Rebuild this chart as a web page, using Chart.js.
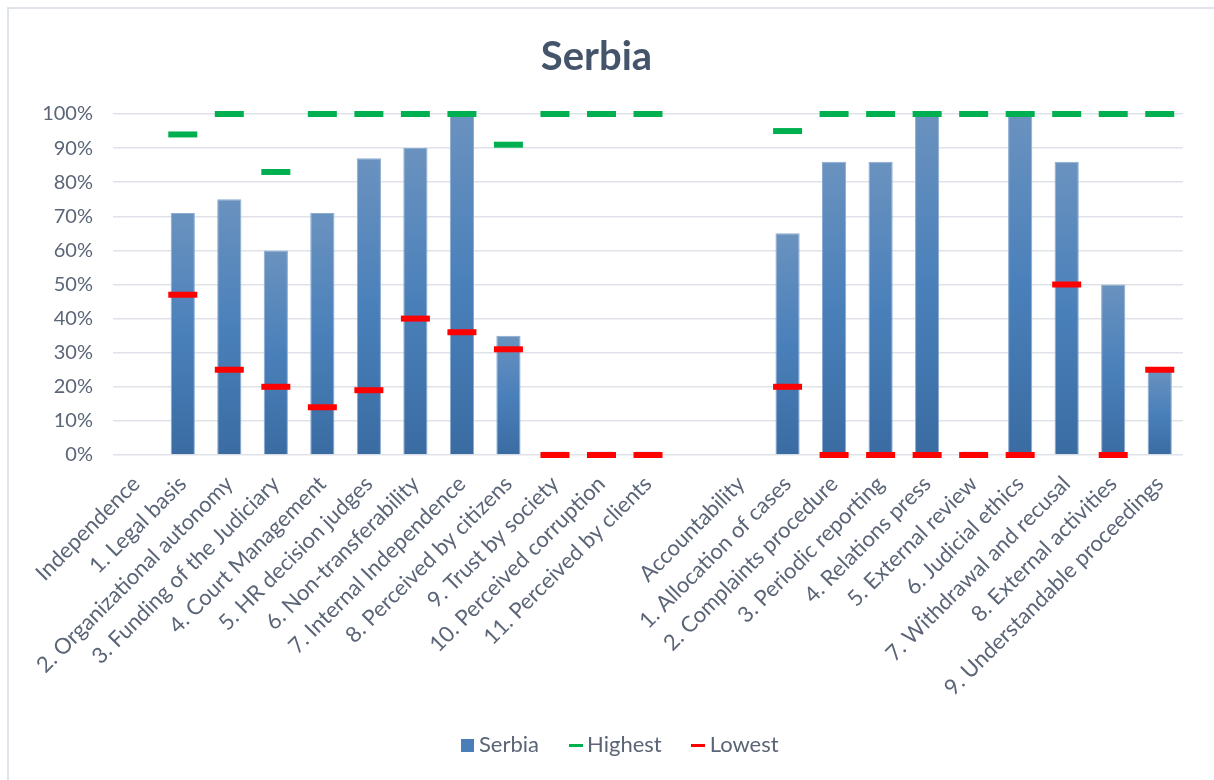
<!DOCTYPE html>
<html>
<head>
<meta charset="utf-8">
<script src="https://cdn.jsdelivr.net/npm/chart.js@4.4.1/dist/chart.umd.min.js"></script>
<style>
	body { margin: 0; background: #fff; }
	#frame { position: absolute; left: 7px; top: 7px; width: 1300px; height: 900px; border: 2px solid #DFE3EA; }
	#wrap { position: absolute; left: 0; top: 0; width: 1214px; height: 780px; }
</style>
</head>
<body>
<div id="frame"></div>
<div id="wrap"><canvas id="serbiaChart"></canvas></div>
<script>
const categories = [
	'Independence',
	'1. Legal basis',
	'2. Organizational autonomy',
	'3. Funding of the Judiciary',
	'4. Court Management',
	'5. HR decision judges',
	'6. Non-transferability',
	'7. Internal Independence',
	'8. Perceived by citizens',
	'9. Trust by society',
	'10. Perceived corruption',
	'11. Perceived by clients',
	'',
	'Accountability',
	'1. Allocation of cases',
	'2. Complaints procedure',
	'3. Periodic reporting',
	'4. Relations press',
	'5. External review',
	'6. Judicial ethics',
	'7. Withdrawal and recusal',
	'8. External activities',
	'9. Understandable proceedings'
]
const serbia  = [null, 71, 75, 60, 71, 87, 90, 100, 35, 1, 1, 1, null, null, 65, 86, 86, 100, 1, 100, 86, 50, 25]
const highest = [null, 94, 100, 83, 100, 100, 100, 100, 91, 100, 100, 100, null, null, 95, 100, 100, 100, 100, 100, 100, 100, 100]
const lowest  = [null, 47, 25, 20, 14, 19, 40, 36, 31, 0, 0, 0, null, null, 20, 0, 0, 0, 0, 0, 50, 0, 25]
const yTicks = [0, 10, 20, 30, 40, 50, 60, 70, 80, 90, 100]

const textColor = '#5B6577'
const font = 'Lato, "Open Sans", sans-serif'

// per-bar vertical gradient like the Excel fill
const barFill = (ctx)=>{
	const chart = ctx.chart
	const y = chart.scales.y
	if (!y || ctx.raw == null) return '#4A7EB8'
	const top = y.getPixelForValue(ctx.raw)
	const bottom = y.getPixelForValue(0)
	if (!isFinite(top) || bottom - top < 1) return '#4A7EB8'
	const g = chart.ctx.createLinearGradient(0, top, 0, bottom)
	g.addColorStop(0, '#6A92BF')
	g.addColorStop(0.5, '#4A80BA')
	g.addColorStop(1, '#3A6CA2')
	return g
}

// small marker images for the legend
const marker = (w, h, color)=>{
	const c = document.createElement('canvas')
	c.width = w
	c.height = h
	const cx = c.getContext('2d')
	cx.fillStyle = color
	cx.fillRect(0, 0, w, h)
	return c
}
const legendMarkers = [marker(13, 13, '#4A7EB8'), marker(14, 3, '#00B050'), marker(14, 3, '#FF0000')]

// put the legend where the reference has it
const legendPlace = {
	id: 'legendPlace',
	beforeDraw: (chart)=>{
		const lg = chart.legend
		if (!lg || !lg.lineWidths) return
		const pad = lg.options.labels.padding
		const startX = (lg.left + pad + lg.right - lg.lineWidths[0]) / 2
		const dx = 467 - startX
		lg.left += dx
		lg.right += dx
		lg.top = 745 - pad - 11
		lg.bottom = lg.top + pad * 2 + 22
		lg.height = lg.bottom - lg.top
	}
}

new Chart(
	document.getElementById('serbiaChart'),
	{
		type: 'bar',
		data: {
			labels: categories,
			datasets: [
				{
					label: 'Serbia',
					data: serbia,
					backgroundColor: barFill,
					borderColor: '#8AAAD0',
					borderWidth: 1,
					categoryPercentage: 1,
					barPercentage: 0.52,
					order: 3
				},
				{
					type: 'line',
					label: 'Highest',
					data: highest,
					showLine: false,
					clip: false,
					pointStyle: 'line',
					pointRadius: 14.5,
					pointHoverRadius: 14.5,
					pointBorderWidth: 6,
					pointBorderColor: '#00B050',
					borderColor: '#00B050',
					backgroundColor: '#00B050',
					order: 1
				},
				{
					type: 'line',
					label: 'Lowest',
					data: lowest,
					showLine: false,
					clip: false,
					pointStyle: 'line',
					pointRadius: 14.5,
					pointHoverRadius: 14.5,
					pointBorderWidth: 6,
					pointBorderColor: '#FF0000',
					borderColor: '#FF0000',
					backgroundColor: '#FF0000',
					order: 2
				}
			]
		},
		plugins: [legendPlace],
		options: {
			responsive: true,
			maintainAspectRatio: false,
			animation: false,
			layout: {
				padding: { left: 10, right: 31, top: 0, bottom: 14 }
			},
			plugins: {
				title: {
					display: true,
					text: 'Serbia',
					color: '#44546A',
					font: { family: font, size: 40, weight: 'bold' },
					padding: { top: 33, bottom: 33 }
				},
				legend: {
					position: 'bottom',
					maxHeight: 40,
					labels: {
						color: textColor,
						font: { family: font, size: 22 },
						usePointStyle: true,
						boxWidth: 1,
						boxHeight: 13,
						padding: 36,
						sort: (a, b)=> a.datasetIndex - b.datasetIndex,
						generateLabels: (chart)=>{
							const items = Chart.defaults.plugins.legend.labels.generateLabels(chart)
							items.forEach(e=>{
								e.pointStyle = legendMarkers[e.datasetIndex]
								e.lineWidth = 0
							})
							return items
						}
					}
				},
				tooltip: { enabled: false }
			},
			scales: {
				x: {
					grid: { display: false },
					border: { display: false },
					ticks: {
						color: textColor,
						font: { family: font, size: 22 },
						autoSkip: false,
						minRotation: 45,
						maxRotation: 45,
						padding: 8
					},
					afterFit: (scale)=>{ scale.height = 271 }
				},
				y: {
					min: 0,
					max: 100,
					afterBuildTicks: (scale)=>{ scale.ticks = yTicks.map(v=>({ value: v })) },
					grid: { color: '#DFE3E9', lineWidth: 1.5, drawTicks: false, tickLength: 0 },
					border: { display: false },
					ticks: {
						color: textColor,
						font: { family: font, size: 20 },
						padding: 20,
						callback: (v)=> v + '%'
					},
					afterFit: (scale)=>{ scale.width = 103 }
				}
			}
		}
	}
);
</script>
</body>
</html>
